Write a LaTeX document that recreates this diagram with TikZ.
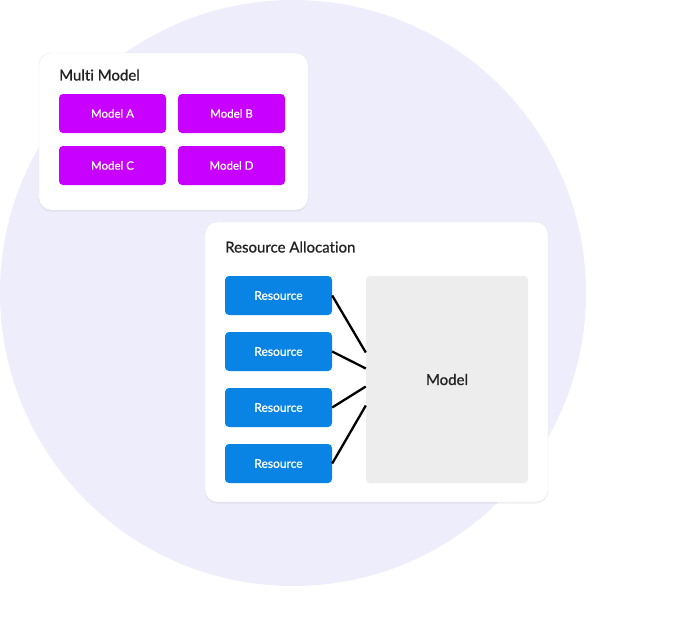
\documentclass[tikz,border=0pt]{standalone}
\usepackage{fontspec}
\setmainfont{Lato}[Ligatures=NoCommon]
\newfontfamily\mediumfont{Lato}[Ligatures=NoCommon,FakeBold=0.8]
\usetikzlibrary{shadows,calc}
\definecolor{circleFill}{HTML}{EEEDFC}
\definecolor{modelPurple}{HTML}{C800FF}
\definecolor{resourceBlue}{HTML}{0A84E4}
\definecolor{modelGray}{HTML}{EDEDED}
\definecolor{textDark}{HTML}{222222}

\begin{document}
\begin{tikzpicture}
[x=1pt,y=-1pt,
  cardDecorate/.style={fill=white,draw=black!9,rounded corners=12pt,
    drop shadow={shadow xshift=0pt,shadow yshift=-1.5pt,opacity=0.12}},
  titleDecorate/.style={anchor=west,inner sep=0pt,text=textDark,
    font=\mediumfont\fontsize{15}{17}\selectfont},
  modelDecorate/.style={fill=modelPurple,rounded corners=4pt,text=white,
    minimum width=107,minimum height=39,font=\mediumfont\fontsize{11.5}{13}\selectfont},
  resourceDecorate/.style={fill=resourceBlue,rounded corners=4pt,text=white,
    minimum width=107,minimum height=39,font=\mediumfont\fontsize{12}{14}\selectfont},
  lineDecorate/.style={-,line width=2.3pt,black}]
\useasboundingbox (0,0) rectangle (691,622);
%% background circle
\fill[circleFill] (293,293) circle (293);
%% multi model card
\node (multi) [cardDecorate,minimum width=269,minimum height=157] at (173.5,131.5) {};
\node (multiTitle) [titleDecorate] at (59,75) {Multi Model};
\foreach \nodename/\x/\y/\label in {
  modelA/112.5/113.5/Model A,
  modelB/231.5/113.5/Model B,
  modelC/112.5/165.5/Model C,
  modelD/231.5/165.5/Model D}
{
  \node (\nodename) at (\x,\y) [modelDecorate] {\label};
}
%% resource allocation card
\node (alloc) [cardDecorate,minimum width=343,minimum height=280] at (376.5,362) {};
\node (allocTitle) [titleDecorate] at (225,247) {Resource Allocation};
\node (model) [fill=modelGray,rounded corners=4pt,minimum width=162,minimum height=207,
  text=textDark,font=\mediumfont\fontsize{15}{17}\selectfont] at (447,379.5) {Model};
\foreach \nodename/\y in {1/295.5, 2/351.5, 3/407.5, 4/463.5}
{
  \node (res\nodename) at (278.5,\y) [resourceDecorate] {Resource};
}
%% edges
\foreach \startnode/\dy in {1/-27, 2/-11, 3/7, 4/26}
{
  \draw[lineDecorate] (res\startnode.east) -- ($(model.west)+(0,\dy)$);
}
\end{tikzpicture}
\end{document}
